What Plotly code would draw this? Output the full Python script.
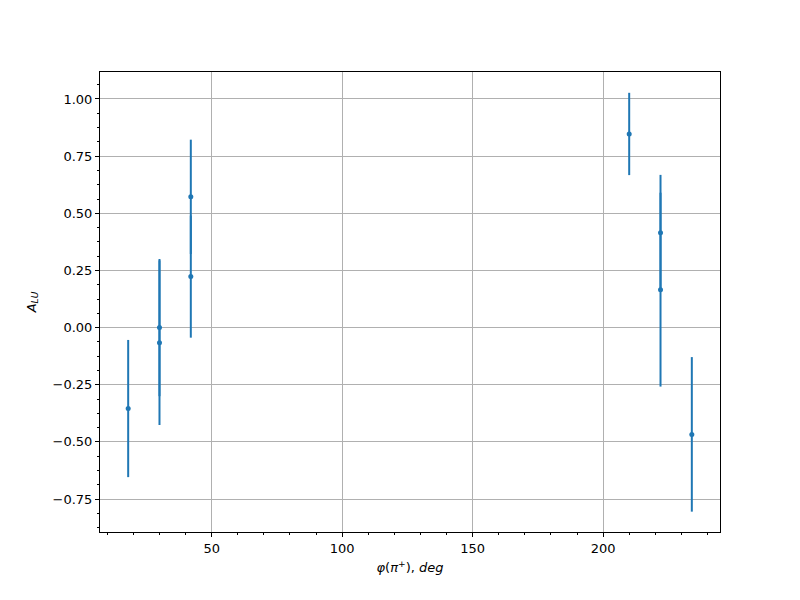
import plotly.graph_objects as go

phi = [18, 30, 30, 42, 42, 210, 222, 222, 234]
a_lu = [-0.354, 0.0, -0.066, 0.572, 0.223, 0.847, 0.415, 0.166, -0.467]
a_err = [0.30, 0.30, 0.36, 0.25, 0.267, 0.18, 0.253, 0.424, 0.338]

x_ticks = [50, 100, 150, 200]
y_ticks = [-0.75, -0.5, -0.25, 0.0, 0.25, 0.5, 0.75, 1.0]

color = "#1f77b4"
fig = go.Figure()
fig.add_trace(go.Scatter(
    x=phi, y=a_lu, mode="markers",
    marker=dict(color=color, size=5),
    error_y=dict(type="data", array=a_err, visible=True, color=color, thickness=2, width=0),
    showlegend=False,
))

font = dict(family="DejaVu Sans", size=13, color="black")
axis_common = dict(
    showline=True, linecolor="black", linewidth=1, mirror=True,
    ticks="outside", ticklen=4, tickwidth=1, tickcolor="black",
    showgrid=True, gridcolor="#b0b0b0", gridwidth=0.8,
    zeroline=False, tickfont=font,
)
fig.update_xaxes(
    **axis_common, range=[7.2, 244.8], tickvals=x_ticks,
    minor=dict(dtick=10, tick0=0, ticks="outside", ticklen=2, tickcolor="black", showgrid=False),
    title=dict(text="<i>φ</i>(<i>π</i><sup>+</sup>), <i>deg</i>", font=font, standoff=8),
)
fig.update_yaxes(
    **axis_common, range=[-0.894, 1.118], tickvals=y_ticks, tickformat=".2f",
    minor=dict(dtick=0.0625, tick0=0, ticks="outside", ticklen=2, tickcolor="black", showgrid=False),
    title=dict(text="<i>A</i><sub><i>LU</i></sub>", font=font, standoff=13),
)
fig.update_layout(
    width=800, height=600,
    margin=dict(l=92, r=88, t=64, b=76),
    plot_bgcolor="white", paper_bgcolor="white",
    font=font,
)
fig.write_html("out.html")
